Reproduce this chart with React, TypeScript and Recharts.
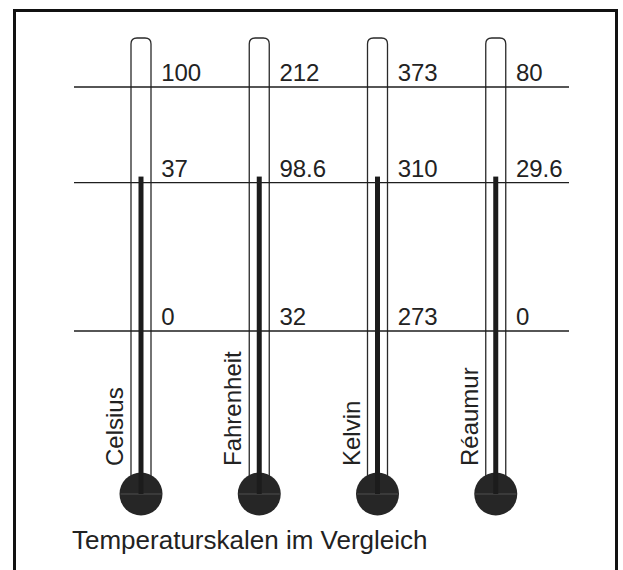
import { ComposedChart, Bar, Scatter, XAxis, YAxis, ReferenceLine } from "recharts";

const scaleNames = ["Celsius", "Fahrenheit", "Kelvin", "Réaumur"];
const freezingPoints = [0, 32, 273, 0];
const bodyTemps = [37, 98.6, 310, 29.6];
const boilingPoints = [100, 212, 373, 80];

// fixed points on the shared celsius axis: freezing, body temperature, boiling
const fixedPointsC = [0, 37, 100];

const FONT = '"Liberation Sans", Arial, Helvetica, sans-serif';
const INK = "#1c1c1c";
const TEXT = "#222";

// every reading is mapped to its celsius equivalent so the four thermometers share one axis
const toC = (v: number, i: number) =>
  ((v - freezingPoints[i]) / (boilingPoints[i] - freezingPoints[i])) * 100;

const data = scaleNames.map((name, i) => ({
  name,
  freeze: freezingPoints[i],
  body: bodyTemps[i],
  boil: boilingPoints[i],
  freezeC: toC(freezingPoints[i], i),
  bodyC: toC(bodyTemps[i], i),
  boilC: toC(boilingPoints[i], i),
}));

const BULB_OFFSET = 163;
const BULB_R = 21.5;

function Tube(props: any) {
  const { x, y, width, height } = props;
  const bottom = y + height;
  const top = y - 49;
  const cx = x + width / 2;
  const r = 6;
  const bulbY = bottom + BULB_OFFSET;
  const end = bulbY - 18;
  return (
    <g>
      <path
        d={`M${x},${end} V${top + r} Q${x},${top} ${x + r},${top} H${x + width - r} Q${x + width},${top} ${x + width},${top + r} V${end}`}
        fill="none"
        stroke="#2a2a2a"
        strokeWidth={1.3}
      />
      <circle cx={cx} cy={bulbY} r={BULB_R} fill="#262626" />
      <line x1={cx - BULB_R + 1} x2={cx + BULB_R - 1} y1={bulbY} y2={bulbY} stroke="#777" strokeWidth={1} opacity={0.5} />
    </g>
  );
}

function Mercury(props: any) {
  const { x, y, width, height } = props;
  const cx = x + width / 2;
  const top = y - 6;
  const bottom = y + height + BULB_OFFSET;
  return <rect x={cx - 2.5} y={top} width={5} height={bottom - top} fill={INK} />;
}

const valueLabel = (key: string) => (props: any) => {
  const { cx, cy, payload } = props;
  return (
    <text x={cx + 20} y={cy - 6} fontSize={24} fontFamily={FONT} fill={TEXT}>
      {payload[key]}
    </text>
  );
};

function ScaleTick(props: any) {
  const { x, y, payload } = props;
  return (
    <text
      transform={`translate(${x - 18},${y + 135}) rotate(-90)`}
      fontSize={24}
      fontFamily={FONT}
      fill={TEXT}
    >
      {payload.value}
    </text>
  );
}

export default function App() {
  return (
    <div style={{ position: "absolute", left: 0, top: 0, width: 623, height: 570, overflow: "hidden", background: "#fff" }}>
      <div
        style={{
          position: "absolute",
          left: 13,
          top: 9,
          width: 605,
          height: 620,
          border: "3px solid #111",
          boxSizing: "border-box",
        }}
      />
      <div style={{ position: "absolute", left: 0, top: 0 }}>
        <ComposedChart
          width={623}
          height={570}
          data={data}
          margin={{ top: 87, right: 54, bottom: 209, left: 74 }}
        >
          <XAxis
            dataKey="name"
            type="category"
            axisLine={false}
            tickLine={false}
            tickSize={0}
            tickMargin={0}
            height={30}
            interval={0}
            padding={{ left: 8, right: 14 }}
            tick={<ScaleTick />}
          />
          <YAxis type="number" scale="sqrt" domain={[0, 100]} hide />
          {fixedPointsC.map((v) => (
            <ReferenceLine key={v} y={v} stroke="#1e1e1e" strokeWidth={1.3} />
          ))}
          <Bar dataKey="bodyC" barSize={20} background={Tube} shape={Mercury} isAnimationActive={false} />
          <Scatter dataKey="freezeC" shape={valueLabel("freeze")} isAnimationActive={false} />
          <Scatter dataKey="bodyC" shape={valueLabel("body")} isAnimationActive={false} />
          <Scatter dataKey="boilC" shape={valueLabel("boil")} isAnimationActive={false} />
        </ComposedChart>
      </div>
      <div
        style={{
          position: "absolute",
          left: 72,
          top: 527,
          fontSize: 26,
          lineHeight: "26px",
          fontFamily: FONT,
          color: TEXT,
          whiteSpace: "nowrap",
        }}
      >
        Temperaturskalen im Vergleich
      </div>
    </div>
  );
}
